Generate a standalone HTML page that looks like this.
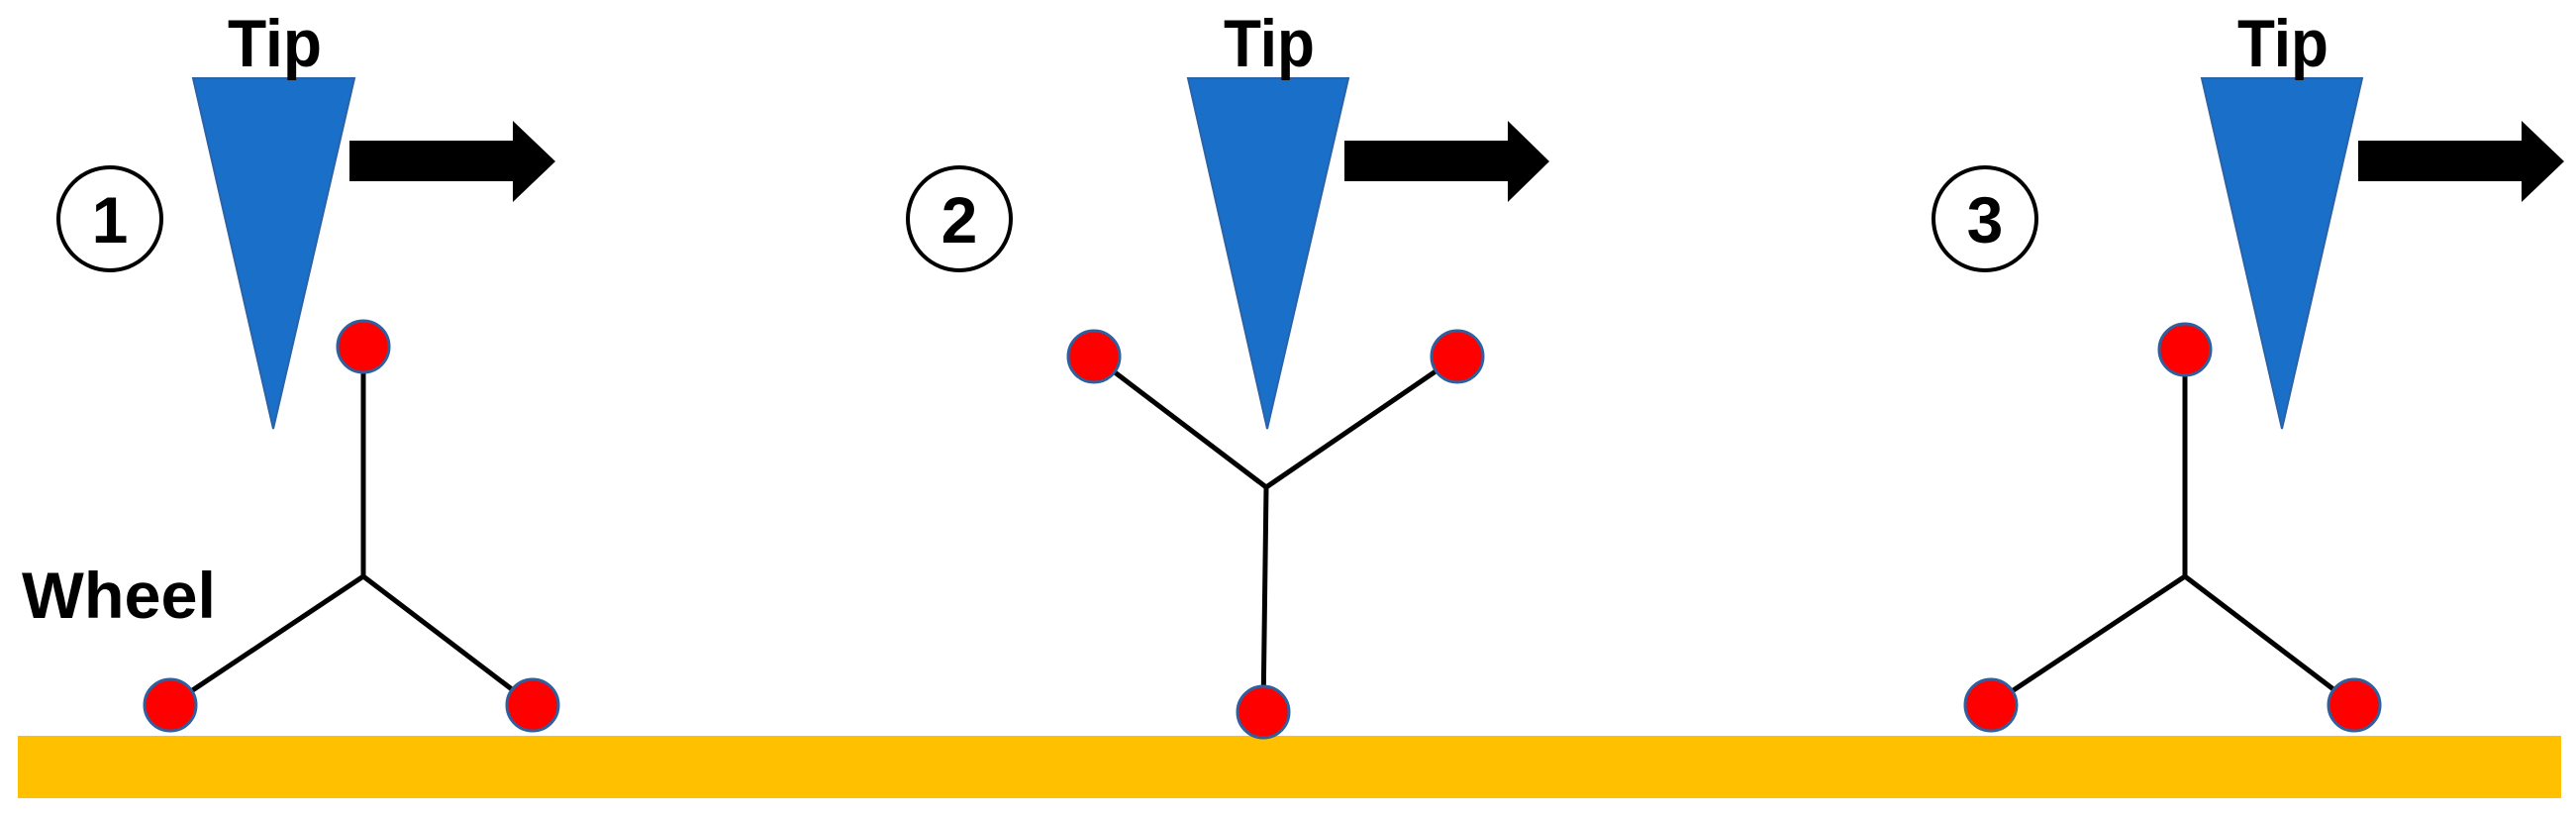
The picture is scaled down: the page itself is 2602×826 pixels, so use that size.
<!DOCTYPE html>
<html><head><meta charset="utf-8"><style>
html,body{margin:0;padding:0;background:#fff;}
svg{display:block}
text{font-family:"Liberation Sans",sans-serif;font-weight:bold;fill:#000}
</style></head><body>
<svg width="2602" height="826" viewBox="0 0 2602 826" xmlns="http://www.w3.org/2000/svg">
<rect x="18" y="743" width="2569" height="63" fill="#ffc000"/>
<g fill="#1a70c8" stroke="#2a62a8" stroke-width="2">
<polygon points="195,79 358,79 276,433"/>
<polygon points="1200,79 1362,79 1280,433"/>
<polygon points="2224,79 2386,79 2305,433"/>
</g>
<g fill="#000">
<polygon points="353,142 518,142 518,122 561,163 518,204 518,183 353,183"/>
<polygon points="1358,142 1523,142 1523,122 1565,163 1523,204 1523,183 1358,183"/>
<polygon points="2382,142 2547,142 2547,122 2590,163 2547,204 2547,183 2382,183"/>
</g>
<text x="230" y="67" font-size="68" textLength="95" lengthAdjust="spacingAndGlyphs">Tip</text>
<text x="1236" y="67" font-size="68" textLength="92" lengthAdjust="spacingAndGlyphs">Tip</text>
<text x="2260" y="67" font-size="68" textLength="92" lengthAdjust="spacingAndGlyphs">Tip</text>
<text x="22" y="624" font-size="66" textLength="196" lengthAdjust="spacingAndGlyphs">Wheel</text>
<g fill="none" stroke="#000" stroke-width="4">
<circle cx="111" cy="221" r="52"/>
<circle cx="969" cy="221" r="52"/>
<circle cx="2005" cy="221" r="52"/>
</g>
<text x="111" y="245" font-size="66" text-anchor="middle">1</text>
<text x="969" y="245" font-size="66" text-anchor="middle">2</text>
<text x="2005" y="245" font-size="66" text-anchor="middle">3</text>
<g stroke="#000" stroke-width="5" fill="none">
<polyline points="367,350 367,582"/><line x1="367" y1="582" x2="172" y2="712"/><line x1="367" y1="582" x2="538" y2="712"/>
<line x1="1105" y1="360" x2="1279" y2="492"/><line x1="1472" y1="360" x2="1279" y2="492"/><line x1="1279" y1="492" x2="1276" y2="719"/>
<polyline points="2207,353 2207,582"/><line x1="2207" y1="582" x2="2011" y2="712"/><line x1="2207" y1="582" x2="2378" y2="712"/>
</g>
<g fill="#ff0000" stroke="#2e5f9e" stroke-width="3">
<circle cx="367" cy="350" r="26"/><circle cx="172" cy="712" r="26"/><circle cx="538" cy="712" r="26"/>
<circle cx="1105" cy="360" r="26"/><circle cx="1472" cy="360" r="26"/><circle cx="1276" cy="719" r="26"/>
<circle cx="2207" cy="353" r="26"/><circle cx="2011" cy="712" r="26"/><circle cx="2378" cy="712" r="26"/>
</g>
</svg>
</body></html>
